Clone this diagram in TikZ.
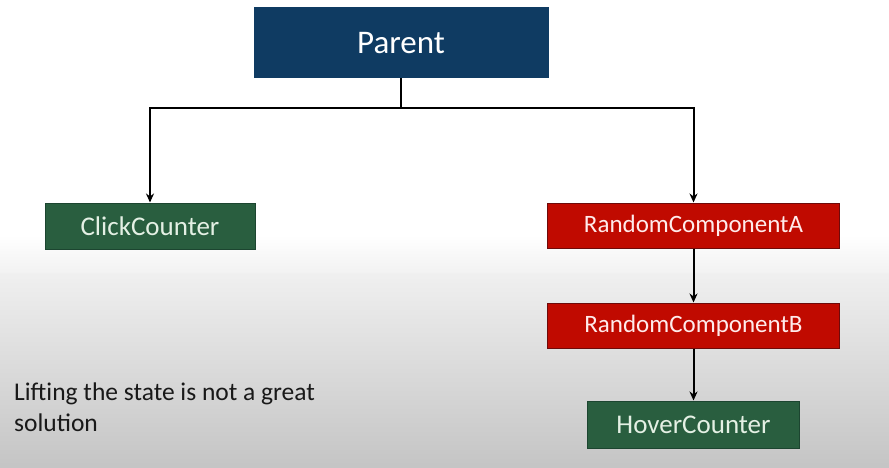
\documentclass[tikz,border=0pt]{standalone}
\usepackage{fontspec}
\setmainfont{Carlito}
\usetikzlibrary{arrows.meta}
\definecolor{parentblue}{HTML}{0F3B62}
\definecolor{boxgreen}{HTML}{295E3F}
\definecolor{greenedge}{HTML}{1C4530}
\definecolor{boxred}{HTML}{C00A00}
\definecolor{rededge}{HTML}{6E0A0A}
\definecolor{greentext}{HTML}{E4F0E4}
\tikzset{
  box/.style={draw, line width=1pt, inner sep=0pt, align=center},
  greenbox/.style={box, fill=boxgreen, draw=greenedge, text=greentext, font=\fontsize{27}{30}\selectfont},
  redbox/.style={box, fill=boxred, draw=rededge, text=white!92!red, font=\fontsize{25}{28}\selectfont},
  conn/.style={draw=black, line width=2pt, -{Stealth[length=9pt,width=8pt]}},
  plain/.style={draw=black, line width=2pt}
}
\begin{document}
\begin{tikzpicture}[x=1pt,y=-1pt]
\useasboundingbox (0,0) rectangle (889,468);
\fill[white] (0,0) rectangle (889,250);
\shade[top color=white!96!black, bottom color=white!77!black] (0,250) rectangle (889,468);
\fill[white] (0,0) rectangle (889,250);
\shade[top color=white, bottom color=white!95!black] (0,235) rectangle (889,272);

\node[box, fill=parentblue, draw=parentblue, text=white, font=\fontsize{33}{36}\selectfont,
  minimum width=294pt, minimum height=70pt] (parent) at (401,43) {Parent};
\node[greenbox, minimum width=210pt, minimum height=46pt] (click) at (150,226) {ClickCounter};
\node[redbox, minimum width=292pt, minimum height=45pt] (ra) at (693.5,225.5) {RandomComponentA};
\node[redbox, minimum width=292pt, minimum height=45pt] (rb) at (693.5,325.5) {RandomComponentB};
\node[greenbox, minimum width=212pt, minimum height=47pt] (hover) at (693.5,424.5) {HoverCounter};

\coordinate (j) at (401,108);
\draw[plain] (parent.south) -- (j);
\draw[conn] (j) -| (click.north);
\draw[conn] (j) -| (ra.north);
\draw[conn] (ra.south) -- (rb.north);
\draw[conn] (rb.south) -- (hover.north);

\node[anchor=north west, inner sep=0pt, align=left, text=black!90,
  font=\fontsize{25.5}{31}\selectfont] (note) at (14,383)
  {Lifting the state is not a great\\solution};
\end{tikzpicture}
\end{document}
